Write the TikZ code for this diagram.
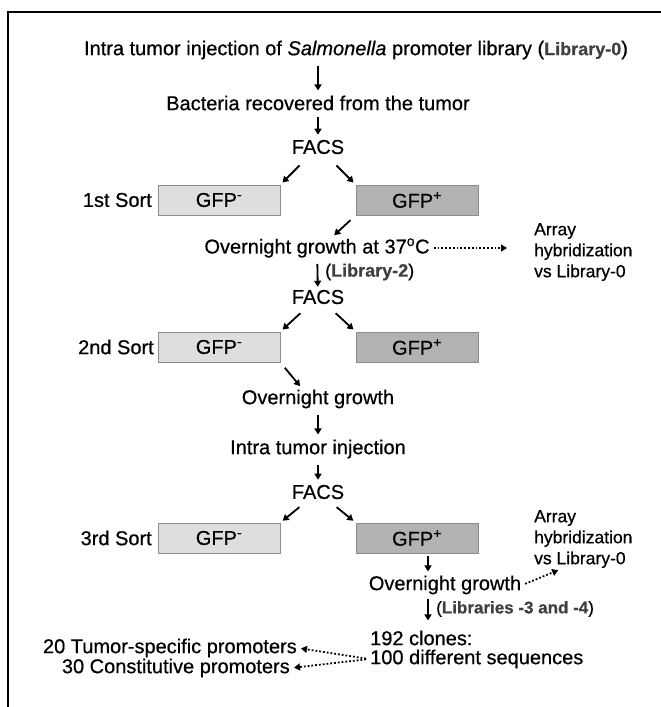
\documentclass[tikz,border=0pt]{standalone}
\usepackage{fontspec}
\setmainfont{Liberation Sans}[FakeBold=0.6]
\usetikzlibrary{arrows.meta}
\newcommand{\libname}[1]{{\bfseries\color{black!75}#1}}

\begin{document}
\begin{tikzpicture}[x=1pt,y=1pt,
      every node/.style={font=\fontsize{20}{24}\selectfont,inner sep=1pt},
      arr/.style={-{Triangle[length=6pt,width=7pt]},line width=1.8pt,shorten <=5pt,shorten >=4pt},
      dots/.style={-{Triangle[length=6pt,width=7pt]},line width=1.8pt,dotted,shorten <=3pt,shorten >=3pt},
      note/.style={font=\fontsize{17.5}{21}\selectfont,align=left,anchor=west},
      negbox/.style={draw=black!45,fill=black!13,line width=0.7pt,minimum width=122pt,minimum height=30pt},
      posbox/.style={draw=black!45,fill=black!30,line width=0.7pt,minimum width=122pt,minimum height=30pt}]
      \useasboundingbox (0,0) rectangle (661,-707);
      \draw [line width=1.3pt] (8,-707) -- (8,-12) -- (661,-12);
      \node (inj0) at (356,-50) {Intra tumor injection of \textit{Salmonella} promoter library ({\fontsize{18}{22}\selectfont\libname{Library-0}})};
      \node (bact) at (318,-103) {Bacteria recovered from the tumor};
      \node (facsA) at (318,-147) {FACS};
      \node [anchor=east] (sortA) at (153,-200) {1st Sort};
      \node [negbox] (negA) at (219,-200) {GFP\textsuperscript{-}};
      \node [posbox] (posA) at (417,-200) {GFP\textsuperscript{+}};
      \node (growA) at (317,-248) {Overnight growth at 37\textsuperscript{o}C};
      \node [note] (arrA) at (533,-252) {Array\\hybridization\\vs Library-0};
      \node [anchor=west,font=\fontsize{18}{21}\selectfont] (libB) at (324,-272) {(\libname{Library-2})};
      \node (facsB) at (318,-297) {FACS};
      \node [anchor=east] (sortB) at (155,-347) {2nd Sort};
      \node [negbox] (negB) at (219,-347) {GFP\textsuperscript{-}};
      \node [posbox] (posB) at (417,-347) {GFP\textsuperscript{+}};
      \node (growB) at (318,-399) {Overnight growth};
      \node (injB) at (318,-449) {Intra tumor injection};
      \node (facsC) at (318,-492) {FACS};
      \node [anchor=east] (sortC) at (153,-538) {3rd Sort};
      \node [negbox] (negC) at (219,-538) {GFP\textsuperscript{-}};
      \node [posbox] (posC) at (417,-538) {GFP\textsuperscript{+}};
      \node [note] (arrC) at (533,-539) {Array\\hybridization\\vs Library-0};
      \node (growC) at (445,-585) {Overnight growth};
      \node [anchor=west,font=\fontsize{17}{20}\selectfont] (libC) at (435,-609) {(\libname{Libraries -3 and -4})};
      \node [anchor=west] (clones) at (369,-638) {192 clones:};
      \node [anchor=west] (seqs) at (369,-659) {100 different sequences};
      \node [anchor=east] (tumor) at (298,-648) {20 Tumor-specific promoters};
      \node [anchor=east] (const) at (291,-668) {30 Constitutive promoters};
      % first round
      \draw [arr] (inj0.south -| bact) -- (bact);
      \draw [arr] (bact) -- (facsA);
      \draw [arr,shorten <=26pt,shorten >=3pt] (facsA.center) -- (negA.north east);
      \draw [arr,shorten <=26pt,shorten >=3pt] (facsA.center) -- (posA.north west);
      \draw [arr,shorten <=7pt,shorten >=3pt] (posA.south west) -- ([xshift=15pt]growA.north);
      \draw [dots,shorten >=26pt] (growA.east) -- (growA.east -| arrA.west);
      \draw [arr,shorten >=2pt] (growA) -- (facsB);
      % second round
      \draw [arr,shorten <=24pt,shorten >=3pt] (facsB.center) -- (negB.north east);
      \draw [arr,shorten <=24pt,shorten >=3pt] (facsB.center) -- (posB.north west);
      \draw [arr,shorten <=7pt,shorten >=3pt] (negB.south east) -- ([xshift=-16pt]growB.north);
      \draw [arr] (growB) -- (injB);
      \draw [arr] (injB) -- (facsC);
      % third round
      \draw [arr,shorten <=24pt,shorten >=3pt] (facsC.center) -- (negC.north east);
      \draw [arr,shorten <=24pt,shorten >=3pt] (facsC.center) -- (posC.north west);
      \draw [arr,shorten <=3pt,shorten >=3pt] ([xshift=11pt]posC.south) -- ([xshift=11pt]posC.south |- growC.north);
      \draw [dots] (growC.east) -- ([xshift=28pt]arrC.south west);
      \draw [arr,shorten <=3pt,shorten >=9pt] ([xshift=11pt]posC.south |- growC.south) -- ([xshift=11pt]posC.south |- clones.north);
      \draw [dots] (seqs.west) -- (tumor.east);
      \draw [dots] (seqs.west) -- (const.east);
\end{tikzpicture}
\end{document}
